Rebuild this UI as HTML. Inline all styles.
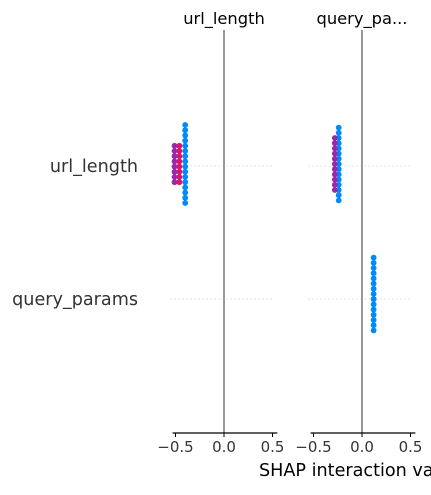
<!DOCTYPE html>
<html><head><meta charset="utf-8"><style>
body{margin:0;background:#fff;}
svg text{font-family:"DejaVu Sans","Liberation Sans",sans-serif;}
</style></head><body>
<svg width="431" height="490" viewBox="0 0 431 490">
<g id="root"></g>
</svg>
<script>
const features = ["url_length","query_params"];
const panelTitles = ["url_length","query_pa..."];
const tickValues = [-0.5,0,0.5];
const tickLabels = ["\u22120.5","0.0","0.5"];
// each cell: panel, row, value, count, colorLevel(0=low,1=high)
const cellPanel = [0,0,0,1,1,1];
const cellRow   = [0,0,0,0,0,1];
const cellValue = [-0.40,-0.46,-0.51,-0.24,-0.28,0.12];
const cellCount = [16,8,8,15,11,15];
const cellColor = [0,0.85,0.6,0,0.5,0];

const NS="http://www.w3.org/2000/svg";
const root=document.getElementById('root');
function mk(t,a,p){const e=document.createElementNS(NS,t);for(const k in a)e.setAttribute(k,a[k]);(p||root).appendChild(e);return e;}
const panelZero=[224,362], scale=97;
const xPos=(p,v)=>panelZero[p]+v*scale;
const rowY=[166,299];
const plotTop=30, axisY=433;
function col(c){const r=Math.round(255*c),g=Math.round(138*(1-c)),b=Math.round(250-(250-82)*c);
 if(c>0.3&&c<0.7)return "rgb(155,40,170)";return `rgb(${r},${g},${b})`;}

rowY.forEach((y,i)=>{
 const l=mk('text',{x:138,y:y+6,'text-anchor':'end','font-size':17.6,fill:'#333'});l.textContent=features[i];
 
 
 [0,1].forEach(p=>{const g=mk('line',{x1:xPos(p,-0.55),x2:xPos(p,0.5),y1:y,y2:y,stroke:'#ccc','stroke-width':1,'stroke-dasharray':'1,3'});
 
 });
});
[0,1].forEach(p=>{
 const t=mk('text',{x:panelZero[p],y:24,'text-anchor':'middle','font-size':16.3,fill:'#000'});t.textContent=panelTitles[p];
 
 
 const z=mk('line',{x1:panelZero[p],x2:panelZero[p],y1:plotTop,y2:axisY,stroke:'#999','stroke-width':2});
 
 
 const ax=mk('line',{x1:xPos(p,-0.53),x2:xPos(p,0.55),y1:axisY,y2:axisY,stroke:'#000','stroke-width':1.2});
 
 
 tickValues.forEach((v,k)=>{
  const tk=mk('line',{x1:xPos(p,v),x2:xPos(p,v),y1:axisY,y2:axisY+4,stroke:'#000','stroke-width':1});
  
  
  const tl=mk('text',{x:xPos(p,v),y:axisY+19,'text-anchor':'middle','font-size':15,fill:'#333'});tl.textContent=tickLabels[k];
  
  
 });
});
cellValue.forEach((v,i)=>{
 const n=cellCount[i],cy=rowY[cellRow[i]]-(cellRow[i]?5:2),x=xPos(cellPanel[i],v);
 for(let j=0;j<n;j++){
  const d=mk('circle',{cx:x,cy:cy+(j-(n-1)/2)*5.2,r:2.9,fill:col(cellColor[i])});
  
  
 }
});
const xl=mk('text',{x:259,y:476,'font-size':17.6,fill:'#000'});xl.textContent="SHAP interaction value";


</script>
</body></html>
